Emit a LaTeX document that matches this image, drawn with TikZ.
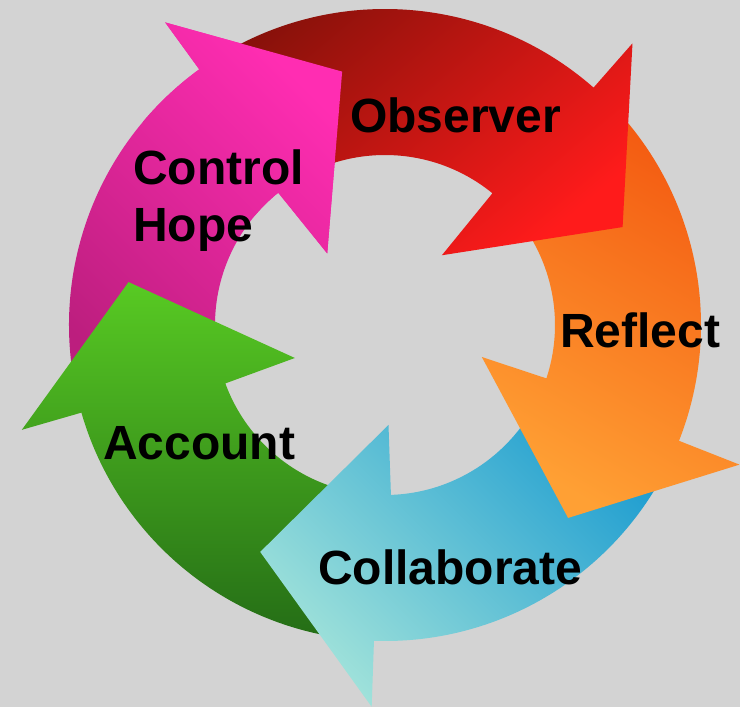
\documentclass[tikz,border=0pt]{standalone}
\usepackage{fontspec}
\setmainfont{Liberation Sans}
\definecolor{bgc}{RGB}{211,211,211}
\definecolor{redDark}{RGB}{135,17,10}
\definecolor{redBright}{RGB}{255,27,27}
\definecolor{orgDark}{RGB}{243,88,16}
\definecolor{orgLight}{RGB}{255,160,52}
\definecolor{bluDark}{RGB}{28,156,208}
\definecolor{bluLight}{RGB}{160,226,218}
\definecolor{grnTop}{RGB}{88,202,35}
\definecolor{grnBot}{RGB}{36,108,22}
\definecolor{pnkBright}{RGB}{255,45,178}
\definecolor{pnkDark}{RGB}{188,30,126}
\def\Ro{316pt}
\def\Ri{170pt}
% #1 tail angle, #2 outer barb angle, #3 inner barb angle, #4 tip angle,
% #5 outer barb radius, #6 inner barb radius, #7 tip radius
\newcommand{\cyclearrowpath}[7]{(#1:\Ro) arc[start angle=#1, end angle=#2, radius=\Ro] -- (#2:#5) -- (#4:#7) -- (#3:#6) -- (#3:\Ri) arc[start angle=#3, end angle=#1, radius=\Ri] -- cycle}
\begin{document}
\begin{tikzpicture}[x=1pt,y=1pt,
  lbl/.style={font=\fontsize{48}{57}\selectfont\bfseries, inner sep=0pt, anchor=base west, text=black},
  redarrow/.style={left color=redDark, right color=redBright, shading angle=40},
  orgarrow/.style={top color=orgDark, bottom color=orgLight, shading angle=-30},
  bluarrow/.style={left color=bluLight, right color=bluDark, shading angle=135},
  grnarrow/.style={top color=grnTop, bottom color=grnBot},
  pnkarrow/.style={left color=pnkDark, right color=pnkBright, shading angle=135}]
\useasboundingbox (0,0) rectangle (740,707);
\fill[bgc] (0,0) rectangle (740,707);
\clip (0,0) rectangle (740,707);
\begin{scope}[shift={(385,382)}]
  % pink (Control Hope)
  \shade[pnkarrow] \cyclearrowpath{195}{126}{128.9}{99.6}{374pt}{92pt}{257pt};
  % green (Account)
  \shade[grnarrow] \cyclearrowpath{267}{196.1}{200.1}{170.5}{378pt}{96pt}{260pt};
  % blue (Collaborate)
  \shade[bluarrow] \cyclearrowpath{-23}{-92}{-88}{-118.8}{382pt}{100pt}{259pt};
  % orange (Reflect)
  \shade[orgarrow] \cyclearrowpath{47}{-21.5}{-18.3}{-46.5}{381pt}{102pt}{266pt};
  % red (Observer)
  \shade[redarrow] \cyclearrowpath{124}{48.7}{50.8}{22.4}{375pt}{90pt}{257pt};
  % pink head again, over the red tail
  \begin{scope}
    \clip (0,0) -- (140:430pt) arc[start angle=140, end angle=75, radius=430pt] -- cycle;
    \shade[pnkarrow] \cyclearrowpath{195}{126}{128.9}{99.6}{374pt}{92pt}{257pt};
  \end{scope}
\end{scope}
\node[lbl] (obs) at (350,574) {Observer};
\node[lbl] (ctl1) at (133,522) {Control};
\node[lbl] (ctl2) at (133,465) {Hope};
\node[lbl] (ref) at (560,359) {Reflect};
\node[lbl] (acc) at (103,247) {Account};
\node[lbl] (col) at (318,122) {Collaborate};
\end{tikzpicture}
\end{document}
